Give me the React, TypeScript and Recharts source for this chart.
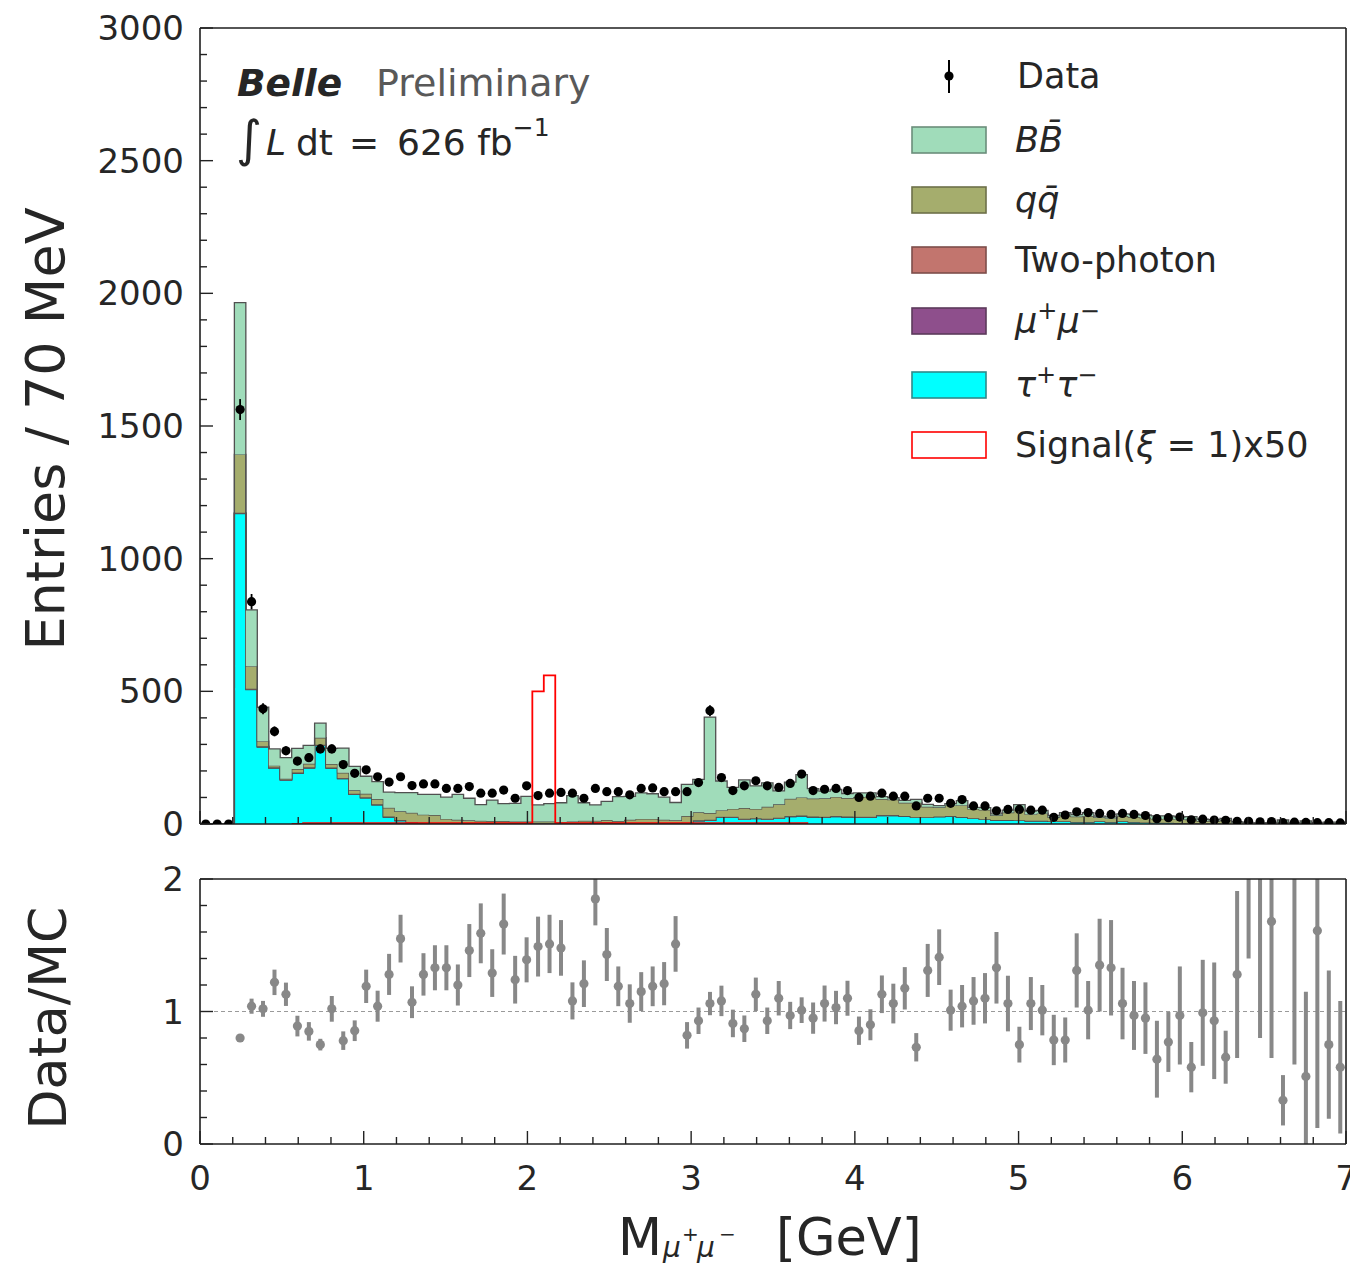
import React from 'react';
import { ComposedChart, Area, Line, Scatter, ErrorBar, XAxis, YAxis, ReferenceLine } from 'recharts';

const FONT = 'DejaVu Sans';
const TXT = '#262626';

const N_BINS = 100;
const BIN_WIDTH = 0.07;
const binLow: number[] = Array.from({ length: N_BINS }, (_, i) => Math.round(i * 7) / 100);

// Observed data counts per 70 MeV bin
const dataCounts: number[] = [
  0, 0, 0, 1562, 838, 434, 349, 276, 237, 250,
  283, 283, 224, 191, 204, 178, 158, 178, 145, 151,
  151, 134, 134, 141, 116, 116, 128, 97, 144, 107,
  116, 119, 116, 97, 134, 122, 122, 110, 134, 136,
  122, 122, 122, 156, 427, 175, 126, 144, 163, 144,
  138, 153, 188, 126, 131, 134, 126, 100, 105, 116,
  105, 105, 68, 97, 97, 78, 92, 68, 68, 50,
  55, 55, 52, 52, 25, 34, 46, 43, 40, 36,
  40, 36, 32, 20, 24, 26, 16, 18, 15, 14,
  10, 10, 8, 9, 5, 7, 6, 5, 5, 4,
];

// MC components (stacked bottom -> top)
const tauCounts: number[] = [
  0, 0, 0, 1170, 507, 290, 211, 165, 191, 211,
  296, 211, 171, 112, 99, 72, 26, 13, 6, 3,
  2, 2, 2, 2, 2, 1, 1, 1, 1, 1,
  1, 1, 1, 2, 4, 5, 3, 2, 2, 2,
  2, 2, 3, 12, 14, 25, 25, 18, 20, 18,
  22, 28, 30, 26, 25, 28, 26, 25, 25, 32,
  32, 30, 25, 25, 28, 30, 26, 22, 18, 15,
  15, 14, 12, 12, 10, 10, 8, 8, 10, 8,
  10, 8, 6, 5, 5, 4, 3, 3, 3, 2,
  1, 1, 1, 1, 1, 1, 1, 1, 1, 1,
];
const mumuCounts: number[] = [
  0, 0, 0, 1, 1, 1, 1, 1, 1, 1,
  1, 0, 0, 0, 0, 0, 0, 0, 0, 0,
  0, 0, 0, 0, 0, 0, 0, 0, 0, 0,
  0, 0, 0, 0, 0, 0, 0, 0, 0, 0,
  0, 0, 0, 0, 0, 0, 0, 0, 0, 0,
  0, 0, 0, 0, 0, 0, 0, 0, 0, 0,
  0, 0, 0, 0, 0, 0, 0, 0, 0, 0,
  0, 0, 0, 0, 0, 0, 0, 0, 0, 0,
  0, 0, 0, 0, 0, 0, 0, 0, 0, 0,
  0, 0, 0, 0, 0, 0, 0, 0, 0, 0,
];
const twoPhotonCounts: number[] = [
  0, 0, 0, 2, 2, 2, 2, 2, 2, 2,
  2, 2, 2, 2, 2, 2, 2, 2, 2, 2,
  2, 2, 2, 2, 2, 2, 2, 2, 2, 2,
  2, 2, 2, 2, 2, 2, 2, 2, 2, 2,
  2, 2, 2, 2, 2, 2, 2, 2, 2, 2,
  2, 2, 2, 2, 2, 2, 2, 2, 2, 2,
  2, 0, 0, 0, 0, 0, 0, 0, 0, 0,
  0, 0, 0, 0, 0, 0, 0, 0, 0, 0,
  0, 0, 0, 0, 0, 0, 0, 0, 0, 0,
  0, 0, 0, 0, 0, 0, 0, 0, 0, 0,
];
const qqCounts: number[] = [
  0, 0, 0, 220, 85, 19, 6, 3, 13, 13,
  26, 13, 20, 13, 13, 20, 33, 33, 34, 30,
  30, 15, 12, 10, 8, 8, 8, 6, 6, 6,
  6, 5, 6, 8, 6, 8, 6, 12, 15, 15,
  12, 10, 25, 30, 25, 25, 30, 40, 35, 45,
  50, 65, 68, 68, 70, 72, 70, 75, 75, 60,
  58, 50, 55, 40, 35, 40, 45, 35, 35, 18,
  28, 40, 25, 28, 15, 22, 20, 22, 15, 14,
  20, 18, 18, 14, 15, 14, 14, 8, 8, 14,
  5, 3, 2, 3, 6, 2, 4, 2, 3, 3,
];
const bbCounts: number[] = [
  0, 0, 0, 572, 212, 128, 63, 79, 78, 69,
  55, 59, 93, 90, 66, 66, 59, 70, 76, 77,
  78, 82, 96, 83, 61, 79, 66, 69, 95, 63,
  68, 72, 98, 68, 60, 70, 92, 88, 98, 95,
  85, 67, 119, 124, 362, 110, 81, 106, 87, 90,
  51, 63, 86, 37, 27, 28, 17, 15, 15, 9,
  7, 9, 13, 9, 6, 7, 17, 6, 9, 5,
  9, 19, 12, 11, 7, 11, 7, 13, 5, 5,
  8, 11, 10, 12, 11, 9, 11, 7, 5, 5,
  2, 0, 0, 1, 8, 0, 7, 0, 3, 3,
];
// Signal (xi = 1) x 50, null where not drawn
const signalX50: (number | null)[] = [
  null, null, null, null, null, null, null, null, 0, 3,
  3, 3, 3, 3, 3, 3, 3, 3, 3, 3,
  3, 3, 3, 3, 3, 3, 3, 3, 3, 500,
  560, 3, 3, 3, 3, 3, 3, 3, 3, 3,
  3, 3, 3, 3, 3, 3, 3, 3, 3, 3,
  3, 3, 3, 0, null, null, null, null, null, null,
  null, null, null, null, null, null, null, null, null, null,
  null, null, null, null, null, null, null, null, null, null,
  null, null, null, null, null, null, null, null, null, null,
  null, null, null, null, null, null, null, null, null, null,
];

// Data / MC ratio and its error
const ratioValues: (number | null)[] = [
  null, null, null, 0.80, 1.04, 1.02, 1.22, 1.13, 0.89, 0.85,
  0.75, 1.02, 0.78, 0.855, 1.19, 1.04, 1.28, 1.55, 1.07, 1.28,
  1.33, 1.33, 1.20, 1.46, 1.59, 1.29, 1.66, 1.24, 1.39, 1.49,
  1.51, 1.48, 1.08, 1.21, 1.85, 1.43, 1.19, 1.06, 1.15, 1.19,
  1.21, 1.51, 0.82, 0.93, 1.06, 1.08, 0.91, 0.87, 1.13, 0.93,
  1.10, 0.97, 1.01, 0.95, 1.06, 1.03, 1.10, 0.855, 0.90, 1.13,
  1.06, 1.175, 0.73, 1.31, 1.41, 1.01, 1.04, 1.08, 1.10, 1.33,
  1.06, 0.75, 1.06, 1.01, 0.785, 0.785, 1.31, 1.01, 1.35, 1.33,
  1.06, 0.97, 0.95, 0.64, 0.77, 0.97, 0.58, 0.99, 0.93, 0.655,
  1.28, 2.40, 2.60, 1.68, 0.33, 2.20, 0.51, 1.61, 0.75, 0.58,
];
const ratioErrors: (number | null)[] = [
  null, null, null, 0.02, 0.057, 0.06, 0.096, 0.088, 0.078, 0.07,
  0.044, 0.097, 0.07, 0.078, 0.126, 0.117, 0.155, 0.18, 0.12, 0.16,
  0.17, 0.17, 0.155, 0.2, 0.226, 0.18, 0.23, 0.18, 0.17, 0.226,
  0.22, 0.21, 0.14, 0.176, 0.2, 0.2, 0.15, 0.145, 0.147, 0.15,
  0.163, 0.21, 0.1, 0.1, 0.088, 0.115, 0.104, 0.1, 0.126, 0.1,
  0.13, 0.103, 0.097, 0.118, 0.136, 0.126, 0.132, 0.107, 0.117, 0.142,
  0.15, 0.16, 0.107, 0.2, 0.21, 0.155, 0.16, 0.18, 0.19, 0.27,
  0.21, 0.135, 0.2, 0.19, 0.19, 0.17, 0.28, 0.22, 0.35, 0.36,
  0.27, 0.26, 0.27, 0.29, 0.226, 0.37, 0.19, 0.4, 0.44, 0.2,
  0.63, 1.0, 1.8, 1.03, 0.19, 1.6, 0.64, 1.49, 0.56, 0.5,
];

const xTicks: number[] = [
  0, 0.2, 0.4, 0.6, 0.8, 1, 1.2, 1.4, 1.6, 1.8, 2, 2.2, 2.4, 2.6, 2.8, 3, 3.2, 3.4, 3.6, 3.8,
  4, 4.2, 4.4, 4.6, 4.8, 5, 5.2, 5.4, 5.6, 5.8, 6, 6.2, 6.4, 6.6, 6.8, 7,
];
const yTicksTop: number[] = [
  0, 100, 200, 300, 400, 500, 600, 700, 800, 900, 1000, 1100, 1200, 1300, 1400, 1500,
  1600, 1700, 1800, 1900, 2000, 2100, 2200, 2300, 2400, 2500, 2600, 2700, 2800, 2900, 3000,
];
const yTicksRatio: number[] = [0, 0.2, 0.4, 0.6, 0.8, 1, 1.2, 1.4, 1.6, 1.8, 2];
const RATIO_DOMAIN: [number, number] = [0, 2];

const COLORS = {
  bb: '#a0dcba',
  qq: '#a5ad6d',
  tp: '#c2756e',
  mumu: '#8e4f8c',
  tau: '#00ffff',
  edge: '#505050',
  signal: '#ff0000',
  ratio: '#888888',
};

const stackRows = binLow.map((x, i) => ({
  x,
  tau: tauCounts[i],
  mumu: mumuCounts[i],
  tp: twoPhotonCounts[i],
  qq: qqCounts[i],
  bb: bbCounts[i],
  sig: signalX50[i],
}));
stackRows.push({ ...stackRows[N_BINS - 1], x: 7, sig: null });

const dataPoints = binLow.map((x, i) => ({
  x: x + BIN_WIDTH / 2,
  y: dataCounts[i],
  err: Math.sqrt(dataCounts[i]),
}));

// error bars are trimmed to the visible ratio window (the panel clips them)
const ratioPoints = binLow
  .map((x, i) => {
    const r = ratioValues[i];
    const e = ratioErrors[i];
    if (r === null || e === null) return null;
    const low = Math.min(e, r - RATIO_DOMAIN[0]);
    const high = Math.min(e, RATIO_DOMAIN[1] - r);
    return { x: x + BIN_WIDTH / 2, r, e: [low, high] };
  })
  .filter((p) => p !== null);

function makeXTick(showLabel: boolean) {
  return (props: any) => {
    const { x, y, payload } = props;
    const v = payload.value;
    const major = Math.abs(v - Math.round(v)) < 1e-6;
    return (
      <g>
        <line x1={x} x2={x} y1={y} y2={y - (major ? 13 : 7)} stroke="#222" strokeWidth={1.4} />
        {showLabel && major ? (
          <text x={x} y={y + 46} textAnchor="middle" fontSize={34} fontFamily={FONT} fill={TXT}>
            {Math.round(v)}
          </text>
        ) : null}
      </g>
    );
  };
}

function makeYTick(majorStep: number) {
  return (props: any) => {
    const { x, y, payload } = props;
    const v = payload.value;
    const q = v / majorStep;
    const major = Math.abs(q - Math.round(q)) < 1e-6;
    return (
      <g>
        <line x1={x} x2={x + (major ? 13 : 7)} y1={y} y2={y} stroke="#222" strokeWidth={1.4} />
        {major ? (
          <text x={x - 16} y={y + 12} textAnchor="end" fontSize={34} fontFamily={FONT} fill={TXT}>
            {Math.round(v)}
          </text>
        ) : null}
      </g>
    );
  };
}

const dataDot = (props: any) => <circle cx={props.cx} cy={props.cy} r={4.6} fill="#000" />;
const ratioDot = (props: any) =>
  props.payload && props.payload.r > RATIO_DOMAIN[1] ? <g /> : <circle cx={props.cx} cy={props.cy} r={4.6} fill={COLORS.ratio} />;

const axisLineStyle = { stroke: '#1e1e1e', strokeWidth: 1.6 };

// page offset of the container is (8, 8)
const O = 8;

function LegendRow({ cy, fill, stroke, children }: any) {
  return (
    <g>
      <rect x={912 - O} y={cy - 13 - O} width={74} height={26} fill={fill} stroke={stroke} strokeWidth={1.6} />
      <text x={1015 - O} y={cy + 12 - O} fontSize={35} fontFamily={FONT} fill={TXT}>
        {children}
      </text>
    </g>
  );
}

function Overlay() {
  return (
    <svg width={1350} height={1262} style={{ position: 'absolute', left: 0, top: 0, pointerEvents: 'none' }}>
      {/* Belle label */}
      <text x={237 - O} y={96 - O} fontSize={37.5} fontFamily={FONT} fontWeight="bold" fontStyle="italic" fill={TXT}>
        Belle
      </text>
      <text x={376 - O} y={96 - O} fontSize={38} fontFamily={FONT} fill="#595959">
        Preliminary
      </text>
      <text x={236 - O} y={156 - O} fontSize={50} fontFamily={FONT} fill={TXT}>∫</text>
      <text x={266 - O} y={155 - O} fontSize={36} fontFamily={FONT} fontStyle="italic" fill={TXT}>L</text>
      <text x={296 - O} y={155 - O} fontSize={36} fontFamily={FONT} fill={TXT}>dt</text>
      <text x={349 - O} y={155 - O} fontSize={36} fontFamily={FONT} fill={TXT}>=</text>
      <text x={397 - O} y={155 - O} fontSize={36} fontFamily={FONT} fill={TXT}>
        626 fb<tspan fontSize={25} dy={-19}>−1</tspan>
      </text>

      {/* Legend */}
      <line x1={949 - O} x2={949 - O} y1={60 - O} y2={93 - O} stroke="#000" strokeWidth={2} />
      <circle cx={949 - O} cy={76 - O} r={4.6} fill="#000" />
      <text x={1017 - O} y={88 - O} fontSize={35} fontFamily={FONT} fill={TXT}>Data</text>
      <LegendRow cy={140} fill={COLORS.bb} stroke="#6b8e7b">
        <tspan fontStyle="italic">B</tspan>
        <tspan fontStyle="italic">B&#x0304;</tspan>
      </LegendRow>
      <LegendRow cy={200} fill={COLORS.qq} stroke="#6d7049">
        <tspan fontStyle="italic">q</tspan>
        <tspan fontStyle="italic">q&#x0304;</tspan>
      </LegendRow>
      <LegendRow cy={260} fill={COLORS.tp} stroke="#7d4e4a">
        Two-photon
      </LegendRow>
      <LegendRow cy={321} fill={COLORS.mumu} stroke="#5c3a5b">
        <tspan fontStyle="italic">μ</tspan>
        <tspan fontSize={24} dy={-14}>+</tspan>
        <tspan fontStyle="italic" dy={14}>μ</tspan>
        <tspan fontSize={24} dy={-14}>−</tspan>
      </LegendRow>
      <LegendRow cy={385} fill={COLORS.tau} stroke="#2f8a8a">
        <tspan fontStyle="italic">τ</tspan>
        <tspan fontSize={24} dy={-14}>+</tspan>
        <tspan fontStyle="italic" dy={14}>τ</tspan>
        <tspan fontSize={24} dy={-14}>−</tspan>
      </LegendRow>
      <LegendRow cy={445} fill="#ffffff" stroke={COLORS.signal}>
        Signal(<tspan fontStyle="italic">ξ</tspan> = 1)x50
      </LegendRow>

      {/* Axis titles */}
      <text transform={`translate(${64 - O},${429 - O}) rotate(-90)`} textAnchor="middle" fontSize={54} fontFamily={FONT} fill={TXT}>
        Entries / 70 MeV
      </text>
      <text transform={`translate(${66 - O},${1018 - O}) rotate(-90)`} textAnchor="middle" fontSize={52} fontFamily={FONT} fill={TXT}>
        Data/MC
      </text>
      <text x={618 - O} y={1255 - O} fontSize={51} fontFamily={FONT} fill={TXT}>M</text>
      <text x={663 - O} y={1257 - O} fontSize={28} fontFamily={FONT} fontStyle="italic" fill={TXT}>μ</text>
      <text x={682 - O} y={1241 - O} fontSize={20} fontFamily={FONT} fill={TXT}>+</text>
      <text x={697 - O} y={1257 - O} fontSize={28} fontFamily={FONT} fontStyle="italic" fill={TXT}>μ</text>
      <text x={719 - O} y={1241 - O} fontSize={20} fontFamily={FONT} fill={TXT}>−</text>
      <text x={776 - O} y={1255 - O} fontSize={51} fontFamily={FONT} fill={TXT}>[GeV]</text>
    </svg>
  );
}

export default function App() {
  return (
    <div style={{ position: 'relative', width: 1350, height: 1262, fontFamily: FONT, background: '#fff' }}>
      <div style={{ position: 'absolute', left: 0, top: 0 }}>
        <ComposedChart width={1350} height={850} data={stackRows} margin={{ top: 19, right: 11, bottom: 33, left: 191 }}>
          <XAxis
            dataKey="x"
            type="number"
            domain={[0, 7]}
            allowDataOverflow
            ticks={xTicks}
            interval={0}
            tickSize={0}
            tickMargin={0}
            tickLine={false}
            tick={makeXTick(false)}
            height={1}
            axisLine={axisLineStyle}
          />
          <XAxis xAxisId="top" orientation="top" type="number" domain={[0, 7]} height={1} tick={false} tickLine={false} axisLine={axisLineStyle} />
          <YAxis
            type="number"
            domain={[0, 3000]}
            allowDataOverflow
            ticks={yTicksTop}
            interval={0}
            tickSize={0}
            tickMargin={0}
            tickLine={false}
            tick={makeYTick(500)}
            width={1}
            axisLine={axisLineStyle}
          />
          <YAxis yAxisId="right" orientation="right" type="number" domain={[0, 1]} width={1} tick={false} tickLine={false} axisLine={axisLineStyle} />
          <Area dataKey="tau" stackId="mc" type="stepAfter" fill={COLORS.tau} fillOpacity={1} stroke={COLORS.edge} strokeWidth={1.3} isAnimationActive={false} />
          <Area dataKey="mumu" stackId="mc" type="stepAfter" fill={COLORS.mumu} fillOpacity={1} stroke={COLORS.edge} strokeWidth={1.3} isAnimationActive={false} />
          <Area dataKey="tp" stackId="mc" type="stepAfter" fill={COLORS.tp} fillOpacity={1} stroke={COLORS.edge} strokeWidth={1.3} isAnimationActive={false} />
          <Area dataKey="qq" stackId="mc" type="stepAfter" fill={COLORS.qq} fillOpacity={1} stroke={COLORS.edge} strokeWidth={1.3} isAnimationActive={false} />
          <Area dataKey="bb" stackId="mc" type="stepAfter" fill={COLORS.bb} fillOpacity={1} stroke={COLORS.edge} strokeWidth={1.3} isAnimationActive={false} />
          <Line dataKey="sig" type="stepAfter" stroke={COLORS.signal} strokeWidth={1.8} dot={false} activeDot={false} connectNulls={false} isAnimationActive={false} />
          <Scatter data={dataPoints} dataKey="y" shape={dataDot} isAnimationActive={false}>
            <ErrorBar dataKey="err" direction="y" width={0} stroke="#000" strokeWidth={1.8} />
          </Scatter>
        </ComposedChart>
      </div>
      <div style={{ position: 'absolute', left: 0, top: 838 }}>
        <ComposedChart width={1350} height={420} data={ratioPoints} margin={{ top: 32, right: 11, bottom: 121, left: 191 }}>
          <XAxis
            dataKey="x"
            type="number"
            domain={[0, 7]}
            allowDataOverflow
            ticks={xTicks}
            interval={0}
            tickSize={0}
            tickMargin={0}
            tickLine={false}
            tick={makeXTick(true)}
            height={1}
            axisLine={axisLineStyle}
          />
          <XAxis xAxisId="top" orientation="top" type="number" domain={[0, 7]} height={1} tick={false} tickLine={false} axisLine={axisLineStyle} />
          <YAxis
            type="number"
            domain={RATIO_DOMAIN}
            allowDataOverflow
            ticks={yTicksRatio}
            interval={0}
            tickSize={0}
            tickMargin={0}
            tickLine={false}
            tick={makeYTick(1)}
            width={1}
            axisLine={axisLineStyle}
          />
          <YAxis yAxisId="right" orientation="right" type="number" domain={[0, 1]} width={1} tick={false} tickLine={false} axisLine={axisLineStyle} />
          <ReferenceLine y={1} stroke="#9a9a9a" strokeWidth={1} strokeDasharray="4 3" />
          <Scatter dataKey="r" shape={ratioDot} isAnimationActive={false}>
            <ErrorBar dataKey="e" direction="y" width={0} stroke={COLORS.ratio} strokeWidth={4} />
          </Scatter>
        </ComposedChart>
      </div>
      <Overlay />
    </div>
  );
}
